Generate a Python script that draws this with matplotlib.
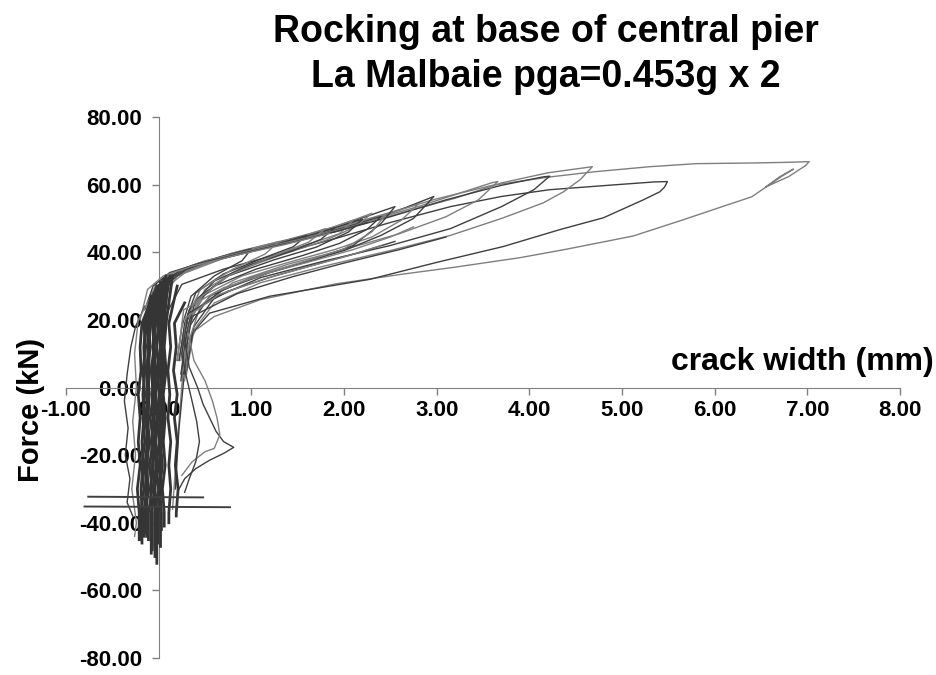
import matplotlib
matplotlib.use("Agg")
import matplotlib.pyplot as plt

plt.rcParams['font.family'] = ['Liberation Sans', 'DejaVu Sans']

# crack width (mm) vs force (kN)
x_ticks = [-1, 0, 1, 2, 3, 4, 5, 6, 7, 8]
y_ticks = [-80, -60, -40, -20, 0, 20, 40, 60, 80]

# big cycles: load along the envelope, then unload back to the knee
loop_7mm = [(0.02, 18), (0.10, 30), (0.40, 36.5), (1.00, 41.0), (1.60, 44.8), (2.30, 50.2),
            (3.00, 55.8), (3.60, 59.8), (4.20, 62.2), (4.70, 63.8), (5.30, 65.3), (5.80, 66.2),
            (6.40, 66.4), (6.80, 66.6), (7.02, 66.8), (6.98, 65.6), (6.90, 64.2), (6.80, 62.4),
            (6.55, 59.3), (6.70, 62.3), (6.85, 64.6), (6.72, 62.4), (6.62, 60.5), (6.40, 56.4),
            (6.05, 53.2), (5.66, 49.6), (5.12, 44.8), (4.40, 40.9), (3.90, 38.4), (3.20, 35.6),
            (2.60, 33.4), (1.90, 30.6), (1.10, 26.0), (0.60, 21.0), (0.40, 17.0), (0.32, 13.0),
            (0.26, 4.0), (0.22, -10), (0.18, -24), (0.15, -36)]
loop_5p5mm = [(0.05, 20), (0.25, 30.5), (0.70, 35.0), (1.30, 39.5), (1.90, 44.0), (2.50, 48.8),
              (3.15, 53.5), (3.70, 56.5), (4.22, 58.5), (4.95, 60.0), (5.35, 60.8), (5.49, 60.9),
              (5.46, 59.3), (5.41, 57.9), (5.23, 55.5), (4.80, 50.2), (4.33, 46.7), (3.72, 41.7),
              (3.00, 37.0), (2.28, 32.0), (1.20, 27.0), (0.55, 22.0), (0.36, 16.0), (0.28, 5),
              (0.22, -12), (0.18, -30)]
loop_4p7mm = [(0.00, 27), (0.20, 33.5), (0.60, 37.8), (1.30, 42.2), (2.00, 47.0), (2.60, 51.5),
              (3.20, 56.0), (3.70, 60.5), (4.20, 63.5), (4.60, 65.0), (4.68, 65.3), (4.55, 61.5),
              (4.37, 57.9), (4.15, 54.6), (3.70, 50.0), (3.15, 45.0), (2.50, 40.5), (1.80, 36.0),
              (1.10, 31.0), (0.60, 25.0), (0.38, 17), (0.30, 4)]
loop_4p2mm = [(-0.03, 24), (0.12, 32), (0.50, 36.8), (1.20, 41.6), (1.90, 46.0), (2.50, 50.5),
              (3.10, 55.5), (3.70, 59.8), (4.15, 62.3), (4.22, 62.5), (4.05, 58.5), (3.70, 53.5),
              (3.15, 47.0), (2.50, 42.0), (1.80, 37.5), (1.10, 32.5), (0.60, 26.5), (0.38, 18),
              (0.30, 5)]
loop_3p7mm = [(0.00, 26), (0.15, 32.5), (0.50, 37.0), (1.10, 41.2), (1.70, 45.0), (2.30, 49.6),
              (2.80, 53.5), (3.25, 57.5), (3.60, 60.6), (3.66, 60.9), (3.45, 55.5), (3.10, 50.5),
              (2.60, 45.5), (2.00, 40.8), (1.40, 36.5), (0.80, 31.0), (0.45, 24), (0.34, 15),
              (0.28, 2)]
loop_3p0mm = [(-0.07, 22), (0.06, 31), (0.45, 36.8), (1.00, 40.8), (1.60, 44.5), (2.20, 48.8),
              (2.60, 52.5), (2.97, 56.5), (2.75, 50.0), (2.40, 45.0), (2.00, 40.5), (1.50, 36.5),
              (1.00, 32.5), (0.55, 27.0), (0.33, 18), (0.27, 4)]
loop_2p8mm = [(-0.02, 25), (0.10, 32), (0.50, 37.2), (1.10, 41.4), (1.70, 45.3), (2.30, 50.0),
              (2.80, 54.2), (2.62, 49.5), (2.30, 44.5), (1.90, 40.8), (1.40, 37.0), (0.90, 33.0),
              (0.50, 27.5), (0.32, 19), (0.26, 6)]
loop_2p6mm = [(-0.10, 24), (0.02, 31), (0.35, 36.0), (0.90, 40.2), (1.50, 44.0), (2.00, 48.3),
              (2.55, 53.5), (2.40, 48.5), (2.10, 42.0), (1.70, 38.0), (1.20, 34.0), (0.70, 29.0),
              (0.35, 22), (0.28, 12), (0.24, 2)]
loop_2p5mm = [(0.02, 25), (0.20, 33.0), (0.70, 38.2), (1.30, 42.5), (1.90, 46.8), (2.45, 51.2),
              (2.30, 46.0), (2.00, 41.0), (1.60, 37.5), (1.10, 33.5), (0.60, 28.0), (0.30, 20),
              (0.22, 8)]
loop_2p4mm = [(-0.05, 26), (0.10, 32.5), (0.55, 37.4), (1.10, 41.0), (1.60, 44.2), (2.05, 47.6),
              (2.40, 50.6), (2.25, 46.8), (1.95, 42.6), (1.55, 39.0), (1.05, 35.0), (0.60, 30.0),
              (0.33, 23), (0.25, 12)]
loop_2p3mm = [(-0.04, 23), (0.08, 31), (0.40, 36.5), (0.90, 40.5), (1.40, 43.8), (1.90, 47.5),
              (2.30, 51.5), (2.12, 47.5), (1.80, 43.5), (1.30, 39.0), (0.80, 34.0), (0.45, 27),
              (0.32, 17), (0.26, 5)]
loop_2p2mm = [(-0.12, 22), (-0.02, 30), (0.25, 35.0), (0.75, 39.2), (1.25, 42.6), (1.80, 46.4),
              (2.20, 49.8), (2.05, 46.0), (1.70, 41.5), (1.25, 37.8), (0.75, 33.0), (0.40, 26),
              (0.30, 16), (0.24, 4)]
loop_2p1mm = [(-0.06, 21), (0.04, 30), (0.30, 35.5), (0.80, 39.8), (1.30, 43.0), (1.75, 46.2),
              (2.10, 49.5), (1.95, 45.5), (1.76, 43.7), (1.40, 40.5), (0.90, 35.5), (0.50, 29),
              (0.35, 20), (0.28, 10)]
loop_1p9mm = [(-0.02, 27), (0.15, 33.2), (0.55, 37.6), (1.05, 41.0), (1.50, 44.0), (1.90, 47.2),
              (1.75, 43.8), (1.45, 40.5), (1.00, 36.4), (0.60, 31.5), (0.35, 24), (0.26, 14)]
loop_1p8mm = [(-0.10, 18), (-0.02, 28), (0.20, 33.5), (0.60, 37.5), (1.10, 41.2), (1.50, 44.2),
              (1.80, 47.0), (1.62, 43.0), (1.20, 38.5), (0.75, 33.0), (0.42, 26), (0.33, 18),
              (0.27, 6)]
loop_1p6mm = [(-0.08, 24), (0.05, 31.5), (0.40, 36.0), (0.90, 39.8), (1.30, 42.6), (1.60, 45.0),
              (1.45, 41.6), (1.10, 38.0), (0.70, 33.6), (0.40, 28), (0.28, 19), (0.22, 8)]
loop_1p3mm = [(-0.08, 20), (0.00, 29), (0.25, 34.0), (0.70, 38.5), (1.00, 41.0), (1.30, 43.2),
              (1.15, 39.5), (0.80, 35.0), (0.45, 29), (0.30, 20), (0.24, 8)]
loop_1p0mm = [(-0.05, 22), (0.05, 30), (0.30, 35.0), (0.65, 38.5), (1.00, 41.0), (0.90, 37.5),
              (0.60, 33.0), (0.35, 27), (0.25, 18), (0.20, 8)]
band_low_1 = [(0.22, 12), (0.27, 23), (0.70, 29.5), (1.20, 34.0), (1.71, 37.8), (2.10, 40.8),
              (2.50, 44.5), (2.75, 47.5)]
band_low_2 = [(0.25, 10), (0.32, 22), (0.75, 28.5), (1.25, 33.0), (1.75, 36.8), (2.15, 39.8),
              (2.55, 43.2)]
band_low_3 = [(0.20, 8), (0.26, 20), (0.65, 27.5), (1.15, 32.2), (1.65, 36.0), (2.05, 39.0),
              (2.40, 42.0)]
band_low_4 = [(0.30, 12), (0.36, 21), (0.85, 27.8), (1.45, 32.8), (2.00, 36.8), (2.60, 40.8),
              (3.10, 44.5)]
band_top_1 = [(-0.12, 25), (-0.02, 31), (0.20, 34.5), (0.50, 37.5), (1.00, 40.6), (1.50, 43.6),
              (2.00, 47.0), (2.35, 49.8)]
band_top_2 = [(-0.15, 23), (-0.06, 30), (0.12, 34.0), (0.45, 36.8), (0.95, 40.0), (1.45, 43.0),
              (1.95, 46.4), (2.25, 48.8)]
band_top_3 = [(-0.20, 20), (-0.12, 29), (0.05, 33.0), (0.35, 35.8), (0.85, 39.2), (1.35, 42.2),
              (1.85, 45.6)]

# dense vertical core around zero crack width
core_levels = [19, 12, 5, -2, -9, -16, -23, -30, -37]
core_1 = [-0.14, -0.16, -0.15, -0.17, -0.16, -0.18, -0.17, -0.19, -0.18]
core_2 = [-0.09, -0.11, -0.10, -0.12, -0.11, -0.13, -0.12, -0.14, -0.13]
core_3 = [-0.04, -0.06, -0.05, -0.07, -0.05, -0.08, -0.06, -0.09, -0.07]
core_4 = [0.00, -0.02, 0.00, -0.03, -0.01, -0.03, -0.01, -0.04, -0.02]
core_5 = [0.04, 0.02, 0.04, 0.01, 0.03, 0.01, 0.03, 0.00, 0.02]
core_6 = [0.08, 0.06, 0.08, 0.05, 0.07, 0.05, 0.07, 0.04, 0.06]
core_7 = [-0.18, -0.20, -0.19, -0.22, -0.20, -0.22, -0.20, -0.23, -0.21]
core_8 = [-0.11, -0.09, -0.12, -0.10, -0.12, -0.10, -0.13, -0.11, -0.14]
core_9 = [-0.05, -0.02, -0.06, -0.03, -0.06, -0.03, -0.07, -0.04, -0.08]
core_10 = [0.02, 0.05, 0.01, 0.04, 0.01, 0.04, 0.00, 0.03, -0.01]
core_11 = [0.11, 0.13, 0.10, 0.12, 0.10, 0.13, 0.11, 0.13, 0.11]
core_12 = [0.17, 0.19, 0.16, 0.20, 0.17, 0.20, 0.18, 0.21, 0.19]
core_13 = [-0.07, -0.05, -0.08, -0.06, -0.09, -0.06, -0.10, -0.07, -0.11]
core_14 = [-0.01, 0.02, -0.02, 0.01, -0.02, 0.01, -0.03, 0.00, -0.04]
core_15 = [-0.13, -0.11, -0.13, -0.12, -0.14, -0.12, -0.15, -0.13, -0.16]
core_16 = [-0.03, -0.06, -0.03, -0.05, -0.02, -0.05, -0.03, -0.05, -0.04]
core_17 = [0.06, 0.04, 0.06, 0.03, 0.05, 0.02, 0.04, 0.01, 0.03]
core_18 = [-0.16, -0.14, -0.17, -0.15, -0.17, -0.15, -0.18, -0.16, -0.19]
core_top = [(-0.02, 30), (0.02, 31), (0.05, 32), (0.08, 33), (0.12, 33), (0.15, 33),
            (-0.05, 28), (0.00, 30), (0.03, 31), (0.10, 32), (0.20, 30), (0.28, 25),
            (0.04, 31), (0.06, 32), (-0.03, 29), (0.02, 30), (0.10, 32), (-0.08, 27)]
core_bottom = [-46, -44, -48, -52, -47, -41, -45, -43, -49, -46, -40, -38, -45, -50,
               -44, -47, -42, -45]

left_wander = [(-0.15, 24), (-0.25, 18), (-0.30, 12), (-0.34, 4), (-0.37, -4), (-0.33, -12),
               (-0.36, -20), (-0.31, -27), (-0.34, -34), (-0.28, -38)]
left_wander_2 = [(-0.10, 26), (-0.22, 20), (-0.26, 10), (-0.24, 0), (-0.28, -10), (-0.25, -20),
                 (-0.29, -30), (-0.24, -40), (-0.26, -44)]
right_wander_1 = [(0.28, 14), (0.33, 6), (0.42, 0), (0.48, -5), (0.55, -9), (0.62, -13),
                  (0.70, -16), (0.81, -17.7), (0.70, -19.5), (0.55, -21.5), (0.40, -24),
                  (0.28, -27), (0.22, -30)]
right_wander_2 = [(0.32, 16), (0.38, 8), (0.50, 2), (0.58, -4), (0.63, -9), (0.66, -14),
                  (0.60, -18), (0.50, -19), (0.36, -22), (0.25, -26)]
right_wander_3 = [(0.25, 10), (0.30, 3), (0.36, -4), (0.41, -10), (0.44, -16), (0.40, -22),
                  (0.33, -27), (0.28, -31)]
jump_1 = [(-0.76, -32.3), (0.48, -32.5)]
jump_2 = [(-0.80, -35.2), (0.77, -35.4)]

loops = [loop_7mm, loop_5p5mm, loop_4p7mm, loop_4p2mm, loop_3p7mm, loop_3p0mm, loop_2p8mm,
         loop_2p6mm, loop_2p5mm, loop_2p4mm, loop_2p3mm, loop_2p2mm, loop_2p1mm, loop_1p9mm,
         loop_1p8mm, loop_1p6mm, loop_1p3mm, loop_1p0mm, band_low_1, band_low_2, band_low_3,
         band_low_4, band_top_1, band_top_2, band_top_3, left_wander, left_wander_2,
         right_wander_1, right_wander_2, right_wander_3]
cores = [core_1, core_2, core_3, core_4, core_5, core_6, core_7, core_8, core_9, core_10,
         core_11, core_12, core_13, core_14, core_15, core_16, core_17, core_18]

fig = plt.figure(figsize=(9.37, 6.75), dpi=100)
ax = fig.add_axes([66 / 937, 1 - 658 / 675, 834 / 937, 541 / 675])

shades = ['#7f7f7f', '#3f3f3f']
for i, pts in enumerate(loops):
    ax.plot([p[0] for p in pts], [p[1] for p in pts], color=shades[i % 2], lw=1.0, zorder=3)
for i, xs in enumerate(cores):
    top = core_top[i]
    ax.plot([top[0]] + xs + [xs[-1]], [top[1]] + core_levels + [core_bottom[i]],
            color='#353535', lw=2.0, zorder=3)
for pts in [jump_1, jump_2]:
    ax.plot([p[0] for p in pts], [p[1] for p in pts], color='#404040', lw=1.4, zorder=3)

ax.set_xlim(-1, 8)
ax.set_ylim(-80, 80)
ax.set_xticks(x_ticks)
ax.set_yticks(y_ticks)
ax.set_xticklabels(['%.2f' % v for v in x_ticks])
ax.set_yticklabels(['%.2f' % v for v in y_ticks])

for side in ['top', 'right']:
    ax.spines[side].set_visible(False)
for side in ['left', 'bottom']:
    ax.spines[side].set_position(('data', 0))
    ax.spines[side].set_color('#808080')
    ax.spines[side].set_zorder(1)
ax.set_axisbelow(True)
ax.tick_params(axis='both', direction='out', length=5, width=1, color='#808080',
               labelsize=16)
ax.tick_params(axis='y', pad=7)
ax.tick_params(axis='x', pad=4)
for lab in ax.get_xticklabels() + ax.get_yticklabels():
    lab.set_fontweight('bold')

fig.text(546 / 937, 1 - 32 / 675, 'Rocking at base of central pier', ha='center', va='center',
         fontsize=27, fontweight='bold')
fig.text(546 / 937, 1 - 77 / 675, 'La Malbaie pga=0.453g x 2', ha='center', va='center',
         fontsize=27, fontweight='bold')
fig.text(934 / 937, 1 - 362 / 675, 'crack width (mm)', ha='right', va='center',
         fontsize=23, fontweight='bold')
fig.text(31 / 937, 1 - 410 / 675, 'Force (kN)', rotation=90, ha='center', va='center',
         fontsize=21, fontweight='bold')

fig.savefig('out.png', dpi=100)
